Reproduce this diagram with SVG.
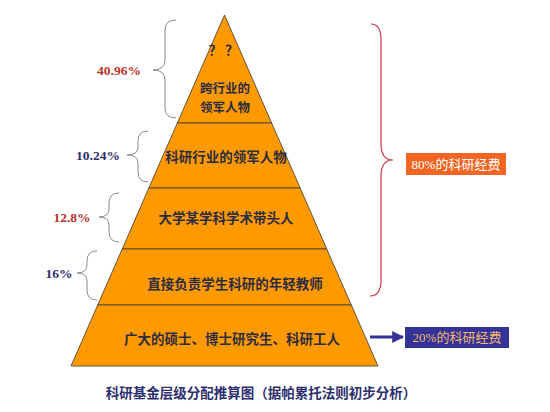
<svg xmlns="http://www.w3.org/2000/svg" width="550" height="412" viewBox="0 0 550 412">
<style>
.layer{fill:#FF9900;stroke:#3a3a3a;stroke-width:0.8}
.lt{font-family:"Noto Sans CJK SC","Noto Sans CJK JP",sans-serif;font-size:13.5px;font-weight:bold;fill:#2d2d40;text-anchor:middle;dominant-baseline:central}
.pct{font-family:"Liberation Serif","Noto Sans CJK SC",serif;font-size:13.5px;font-weight:bold;text-anchor:middle;dominant-baseline:central}
.red{fill:#B8342A}
.navy{fill:#2E2E6E}
.brace{fill:none;stroke:#8a8a8a;stroke-width:1}
.rbrace{fill:none;stroke:#CC3344;stroke-width:1.2}
.bt{font-family:"Liberation Serif","Noto Sans CJK SC",serif;font-size:13px;text-anchor:middle;dominant-baseline:central}
</style>
<defs>
<marker id="ah" viewBox="0 0 10 10" refX="9" refY="5" markerWidth="4" markerHeight="4" orient="auto" markerUnits="strokeWidth">
<path d="M0,0 L10,5 L0,10 z" fill="#333399"/>
</marker>
</defs>
<rect width="550" height="412" fill="#ffffff"/>
<g id="layer1">
<polygon class="layer" points="224.5,15 271.7,123 177.3,123"/>
<text class="lt" x="225" y="49" letter-spacing="3">？？</text>
<text class="lt" x="225" y="87" style="font-size:12.5px">跨行业的</text>
<text class="lt" x="225" y="106" style="font-size:12.5px">领军人物</text>
</g>
<g id="layer2">
<polygon class="layer" points="177.3,123 271.7,123 300.2,188 148.8,188"/>
<text class="lt" x="226" y="156">科研行业的领军人物</text>
</g>
<g id="layer3">
<polygon class="layer" points="148.8,188 300.2,188 326.8,249 122.2,249"/>
<text class="lt" x="226" y="217">大学某学科学术带头人</text>
</g>
<g id="layer4">
<polygon class="layer" points="122.2,249 326.8,249 351.3,305 97.7,305"/>
<text class="lt" x="235" y="283">直接负责学生科研的年轻教师</text>
</g>
<g id="layer5">
<polygon class="layer" points="97.7,305 351.3,305 378,366 71,366"/>
<text class="lt" x="232" y="338">广大的硕士、博士研究生、科研工人</text>
</g>
<g id="labels">
<text class="pct red" x="119" y="70">40.96%</text>
<text class="pct navy" x="98" y="155">10.24%</text>
<text class="pct red" x="72" y="217">12.8%</text>
<text class="pct navy" x="59" y="273">16%</text>
</g>
<g id="connectors">
<path class="brace" d="M176,20 Q165,20 165,30 L165,60 Q165,70 153,70 Q165,70 165,80 L165,108 Q165,118 176,118"/>
<path class="brace" d="M148,131 Q138,131 138,141 L138,147 Q138,155 127,155 Q138,155 138,163 L138,172 Q138,182 148,182"/>
<path class="brace" d="M119,193 Q109,193 109,203 L109,209 Q109,217 99,217 Q109,217 109,225 L109,232 Q109,242 119,242"/>
<path class="brace" d="M97,251 Q87,251 87,261 L87,265 Q87,273 77,273 Q87,273 87,281 L87,290 Q87,300 97,300"/>
<path class="rbrace" d="M371,24 Q381,24 381,40 L381,144 Q381,160 393,160 Q381,160 381,176 L381,280 Q381,296 370,296"/>
<line x1="370" y1="337" x2="403" y2="337" stroke="#333399" stroke-width="3" marker-end="url(#ah)"/>
</g>
<g id="box80">
<rect x="406" y="153" width="100" height="22" fill="#F26522"/>
<text class="bt" x="456" y="164" fill="#ffffff">80%的科研经费</text>
</g>
<g id="box20">
<rect x="405" y="327" width="104" height="21" fill="#333399"/>
<text class="bt" x="457" y="337.5" fill="#F5B86A">20%的科研经费</text>
</g>
<g id="caption">
<text x="261" y="392" font-family="Noto Sans CJK SC,Noto Sans CJK JP,sans-serif" font-size="13.5" font-weight="bold" fill="#2E2E6E" text-anchor="middle" dominant-baseline="central">科研基金层级分配推算图（据帕累托法则初步分析）</text>
</g>
</svg>
